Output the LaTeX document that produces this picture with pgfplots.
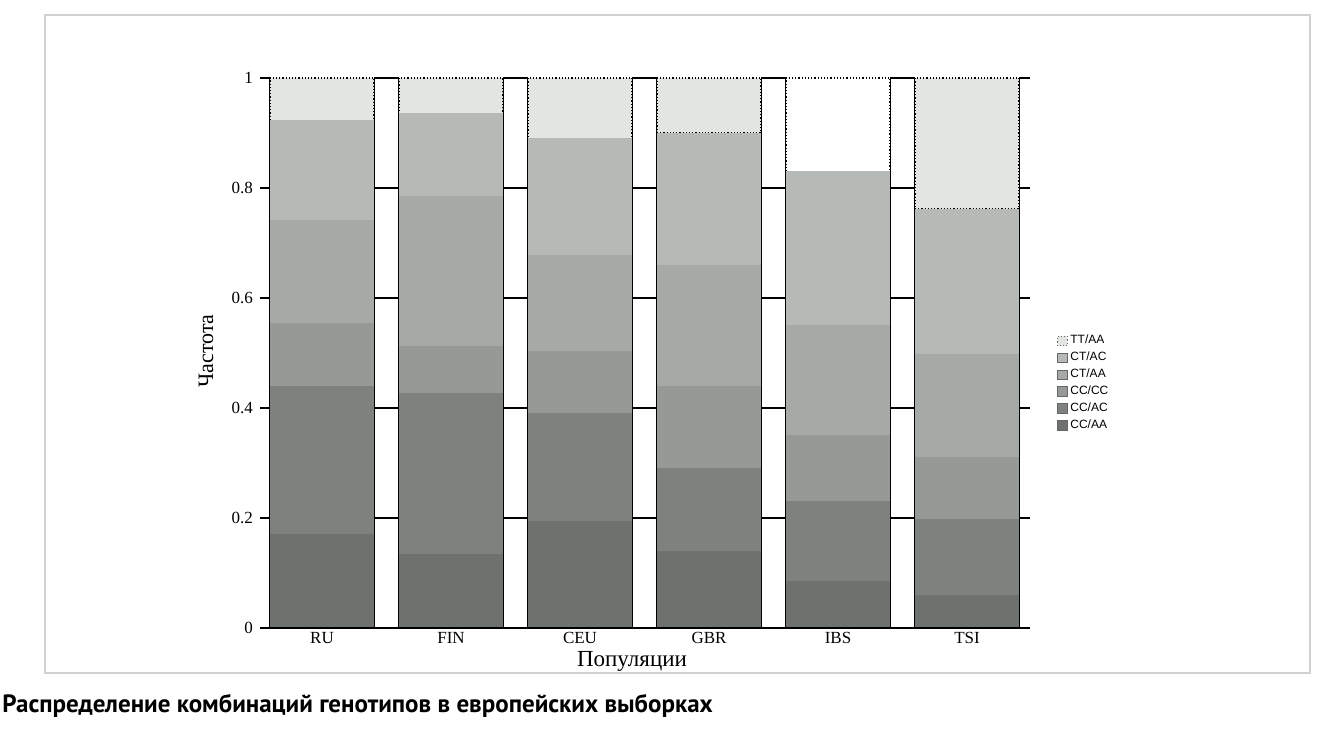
\documentclass[border=0pt]{standalone}
\usepackage{fontspec}
\setmainfont{Liberation Serif}
\setsansfont{Liberation Sans}
\newfontfamily\capfont{PT Sans}
\usepackage{pgfplots}
\pgfplotsset{compat=1.18}
\definecolor{cAA}{HTML}{6E726E}
\definecolor{cAC}{HTML}{7E827E}
\definecolor{cCC}{HTML}{969A96}
\definecolor{tAA}{HTML}{A6AAA6}
\definecolor{tAC}{HTML}{B6BAB6}
\definecolor{tt}{HTML}{E3E5E3}
\pgfplotsset{
  panel/.style={
    scale only axis, width=52pt, height=275pt,
    anchor=south west, clip=false,
    xmin=-0.5, xmax=0.5, ymin=0, ymax=1,
    ybar stacked, bar width=52pt, bar shift=0pt,
    axis x line*=bottom, axis y line*=box,
    axis line style={black, line width=0.6pt, -},
    xtick={0}, x tick style={draw=none},
    ytick={0,0.2,0.4,0.6,0.8,1}, yticklabels={},
    ytick pos=left, ytick align=outside, xtick align=inside,
    y tick style={black, line width=0.6pt},
    major tick length=12.5pt,
    xticklabel style={font=\fontsize{8.5}{9}\selectfont, inner sep=2pt},
    yticklabel style={font=\fontsize{8.5}{9}\selectfont},
  },
  pAA/.style={fill=cAA, draw=none},
  pAC/.style={fill=cAC, draw=none},
  pCC/.style={fill=cCC, draw=none},
  qAA/.style={fill=tAA, draw=none},
  qAC/.style={fill=tAC, draw=none},
  qTT/.style={fill=tt, draw=black, densely dotted, line width=0.6pt},
}
\begin{document}
\begin{tikzpicture}
\useasboundingbox (0pt,0pt) rectangle (660.5pt,365.5pt);
\fill[white] (0pt,0pt) rectangle (660.5pt,365.5pt);
\draw[black!18, line width=1pt] (22.5pt,29pt) rectangle (655pt,358pt);

% RU
\begin{axis}[panel, at={(135pt,51.5pt)}, xticklabels={RU},
  yticklabels={0,0.2,0.4,0.6,0.8,1}, major tick length=5pt]
\addplot[pAA] coordinates {(0,0.170)};
\addplot[pAC] coordinates {(0,0.270)};
\addplot[pCC] coordinates {(0,0.114)};
\addplot[qAA] coordinates {(0,0.188)};
\addplot[qAC] coordinates {(0,0.181)};
\addplot[qTT] coordinates {(0,0.077)};
\end{axis}
% FIN
\begin{axis}[panel, at={(199.5pt,51.5pt)}, xticklabels={FIN}]
\addplot[pAA] coordinates {(0,0.135)};
\addplot[pAC] coordinates {(0,0.293)};
\addplot[pCC] coordinates {(0,0.084)};
\addplot[qAA] coordinates {(0,0.273)};
\addplot[qAC] coordinates {(0,0.151)};
\addplot[qTT] coordinates {(0,0.064)};
\end{axis}
% CEU
\begin{axis}[panel, at={(264pt,51.5pt)}, xticklabels={CEU}]
\addplot[pAA] coordinates {(0,0.195)};
\addplot[pAC] coordinates {(0,0.195)};
\addplot[pCC] coordinates {(0,0.113)};
\addplot[qAA] coordinates {(0,0.175)};
\addplot[qAC] coordinates {(0,0.212)};
\addplot[qTT] coordinates {(0,0.110)};
\end{axis}
% GBR
\begin{axis}[panel, at={(328.5pt,51.5pt)}, xticklabels={GBR}]
\addplot[pAA] coordinates {(0,0.140)};
\addplot[pAC] coordinates {(0,0.150)};
\addplot[pCC] coordinates {(0,0.150)};
\addplot[qAA] coordinates {(0,0.220)};
\addplot[qAC] coordinates {(0,0.240)};
\addplot[qTT] coordinates {(0,0.100)};
\end{axis}
% IBS
\begin{axis}[panel, at={(393pt,51.5pt)}, xticklabels={IBS}]
\addplot[pAA] coordinates {(0,0.085)};
\addplot[pAC] coordinates {(0,0.145)};
\addplot[pCC] coordinates {(0,0.120)};
\addplot[qAA] coordinates {(0,0.200)};
\addplot[qAC] coordinates {(0,0.280)};
\addplot[qTT, fill=white] coordinates {(0,0.170)};
\end{axis}
% TSI
\begin{axis}[panel, at={(457.5pt,51.5pt)}, xticklabels={TSI},
  reverse legend, legend cell align=left,
  legend image code/.code={\draw[#1, draw=black!60, line width=0.4pt] (0pt,-2.4pt) rectangle (4.8pt,2.4pt);},
  legend style={at={(1,0.445)}, anchor=west, xshift=19pt, draw=none, fill=none,
    font=\sffamily\fontsize{6}{7}\selectfont, row sep=0pt, inner sep=0pt,
    nodes={inner sep=1.3pt}}]
\addplot[pAA] coordinates {(0,0.060)};
\addplot[pAC] coordinates {(0,0.138)};
\addplot[pCC] coordinates {(0,0.112)};
\addplot[qAA] coordinates {(0,0.188)};
\addplot[qAC] coordinates {(0,0.264)};
\addplot[qTT] coordinates {(0,0.238)};
\legend{CC/AA,CC/AC,CC/CC,CT/AA,CT/AC,TT/AA}
\end{axis}
% right-side ticks of TSI
\begin{axis}[scale only axis, width=52pt, height=275pt, anchor=south west,
  at={(457.5pt,51.5pt)}, xmin=-0.5, xmax=0.5, ymin=0, ymax=1,
  axis x line=none, axis y line*=right, axis line style={draw=none},
  ytick={0,0.2,0.4,0.6,0.8,1}, yticklabels={}, ytick pos=right,
  tick align=outside, major tick length=5.5pt, y tick style={black, line width=0.6pt}]
\addplot[draw=none] coordinates {(0,0)};
\end{axis}

\draw[black, line width=0.6pt] (135pt,51.5pt) -- (509.5pt,51.5pt);
\node[font=\fontsize{11}{12}\selectfont, rotate=90] at (103pt,190pt) {Частота};
\node[font=\fontsize{11.5}{12}\selectfont] at (316pt,35pt) {Популяции};
\node[font=\capfont\bfseries\fontsize{12.5}{14}\selectfont, anchor=base west, inner sep=0pt] at (1pt,9pt)
  {Распределение комбинаций генотипов в европейских выборках};
\end{tikzpicture}
\end{document}
